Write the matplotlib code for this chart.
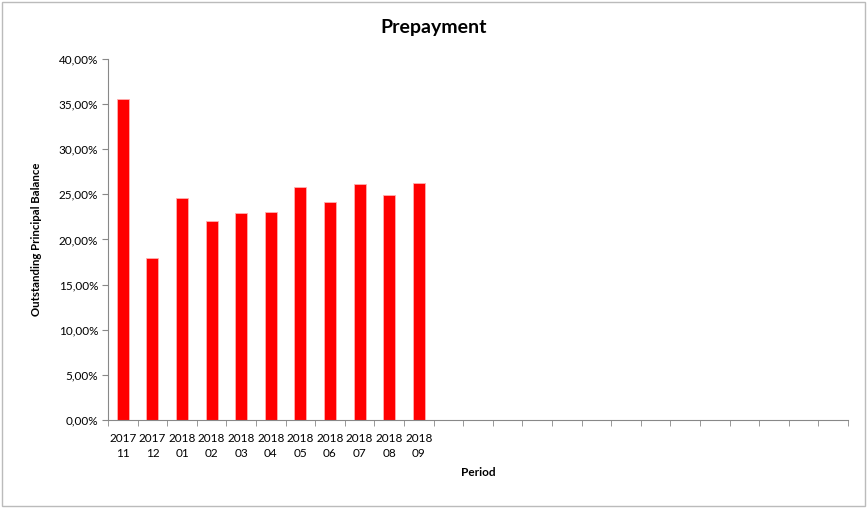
import matplotlib.pyplot as plt
from matplotlib.patches import Rectangle
from matplotlib.ticker import FuncFormatter, MultipleLocator
import numpy as np

plt.rcParams['font.family'] = ['Lato', 'DejaVu Sans']

periods = ['2017\n11', '2017\n12', '2018\n01', '2018\n02', '2018\n03', '2018\n04',
           '2018\n05', '2018\n06', '2018\n07', '2018\n08', '2018\n09']
prepayment = [0.356, 0.180, 0.2455, 0.221, 0.229, 0.230,
              0.258, 0.241, 0.262, 0.2495, 0.2625]
n_slots = 25  # axis has room for 25 periods, only 11 filled

fig = plt.figure(figsize=(8.67, 5.08), dpi=100)
ax = fig.add_axes([0.1246, 0.1732, 0.978 - 0.1246, 0.8839 - 0.1732])

x = np.arange(len(prepayment))
ax.bar(x, prepayment, width=0.41, color='#ff0000', edgecolor='#ffb0b0', linewidth=0.6)

ax.set_xlim(-0.5, n_slots - 0.5)
ax.set_ylim(0, 0.40)

ax.yaxis.set_major_locator(MultipleLocator(0.05))
ax.yaxis.set_major_formatter(FuncFormatter(lambda v, p: '{:.2f}%'.format(v * 100).replace('.', ',')))

ax.set_xticks(x)
ax.set_xticklabels(periods, linespacing=1.45)
ax.set_xticks(np.arange(-0.5, n_slots, 1.0), minor=True)
ax.tick_params(axis='x', which='major', length=0, pad=9, labelsize=8.5)
ax.tick_params(axis='x', which='minor', length=4, color='#888888', direction='out')
ax.tick_params(axis='y', length=4, color='#888888', labelsize=8.5, pad=3)

for s in ['top', 'right']:
    ax.spines[s].set_visible(False)
for s in ['left', 'bottom']:
    ax.spines[s].set_color('#888888')

ax.set_xlabel('Period', fontsize=8.5, fontweight='bold', labelpad=6)
ax.set_ylabel('Outstanding Principal Balance', fontsize=8.2, fontweight='bold', labelpad=12)
fig.text(0.5, 0.946, 'Prepayment', ha='center', va='center', fontsize=14, fontweight='bold')

fig.patches.append(Rectangle((0.002, 0.004), 0.996, 0.992, transform=fig.transFigure,
                             fill=False, edgecolor='#bbbbbb', linewidth=1))

fig.savefig('out.png', dpi=100)
